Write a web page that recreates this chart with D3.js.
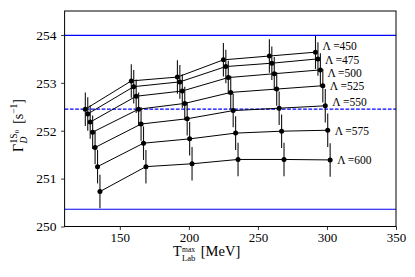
<!DOCTYPE html>
<html>
<head>
<meta charset="utf-8">
<script src="https://cdn.jsdelivr.net/npm/d3@7"></script>
<style>
  body { margin: 0; background: #fff; }
  svg text { font-family: "Liberation Serif", "DejaVu Serif", serif; fill: #000; }
</style>
</head>
<body>
<div id="chart"><svg></svg></div>
<script>
// T_lab^max values (MeV) and per-cutoff horizontal shift used in the plot
var tLab = [125, 158.3, 191.7, 225, 258.3, 291.7];
var lambdas = [450, 475, 500, 525, 550, 575, 600];
var xShift = [0, 1.77, 3.54, 5.31, 7.08, 8.85, 10.6];

// decay rate per cutoff (s^-1)
var g450 = [252.45, 253.04, 253.12, 253.48, 253.56, 253.64];
var g475 = [252.35, 252.92, 253.02, 253.34, 253.41, 253.50];
var g500 = [252.18, 252.72, 252.83, 253.11, 253.19, 253.27];
var g525 = [251.97, 252.45, 252.57, 252.80, 252.87, 252.94];
var g550 = [251.65, 252.14, 252.25, 252.42, 252.47, 252.52];
var g575 = [251.25, 251.74, 251.83, 251.95, 251.99, 252.01];
var g600 = [250.73, 251.25, 251.31, 251.40, 251.40, 251.39];
var gErr = [0.35, 0.35, 0.35, 0.35, 0.35, 0.35, 0.35];

// label heights next to each curve
var labelY = [253.76, 253.47, 253.205, 252.93, 252.59, 252.00, 251.38];

// reference band
var bandHigh = 253.99, bandLow = 250.36, bandMid = 252.45;

var xTicks = [150, 200, 250, 300, 350];
var yTicks = [250, 251, 252, 253, 254];

var allSeries = [g450, g475, g500, g525, g550, g575, g600];

var W = 415, H = 277;
var margin = { top: 11, right: 19, bottom: 50.5, left: 64.6 };
var width = W - margin.left - margin.right,
    height = H - margin.top - margin.bottom;

var svg = d3.select("#chart svg").attr("width", W).attr("height", H);

var x = d3.scaleLinear().domain([110, 350]).range([0, width]);
var y = d3.scaleLinear().domain([250, 254.5]).range([height, 0]);

var g = svg.append("g")
    .attr("transform", "translate(" + margin.left + "," + margin.top + ")");

// blue reference lines
[bandHigh, bandLow].forEach(function(v) {
    g.append("line")
        .attr("x1", 0).attr("x2", width)
        .attr("y1", y(v)).attr("y2", y(v))
        .attr("stroke", "#0000ff").attr("stroke-width", 1.1);
});
g.append("line")
    .attr("x1", 0).attr("x2", width)
    .attr("y1", y(bandMid)).attr("y2", y(bandMid))
    .attr("stroke", "#0000ff").attr("stroke-width", 1.1)
    .attr("stroke-dasharray", "3.7,1.6");

var data = lambdas.map(function(l, i) {
    return {
        id: l,
        values: allSeries[i].map(function(v, j) {
            return { t: tLab[j] + xShift[i], g: v, e: gErr[i] };
        })
    };
});

var line = d3.line()
    .x(function(d) { return x(d.t); })
    .y(function(d) { return y(d.g); });

var series = g.selectAll(".series")
    .data(data)
    .enter().append("g")
    .attr("class", "series");

series.append("path")
    .attr("d", function(d) { return line(d.values); })
    .attr("fill", "none")
    .attr("stroke", "#000")
    .attr("stroke-width", 1);

series.selectAll(".err")
    .data(function(d) { return d.values; })
    .enter().append("line")
    .attr("class", "err")
    .attr("x1", function(d) { return x(d.t); })
    .attr("x2", function(d) { return x(d.t); })
    .attr("y1", function(d) { return y(d.g - d.e); })
    .attr("y2", function(d) { return y(d.g + d.e); })
    .attr("stroke", "#111")
    .attr("stroke-width", 1.1);

series.selectAll("circle")
    .data(function(d) { return d.values; })
    .enter().append("circle")
    .attr("cx", function(d) { return x(d.t); })
    .attr("cy", function(d) { return y(d.g); })
    .attr("r", 2.5)
    .attr("fill", "#000");

series.append("text")
    .attr("x", function(d) { return x(d.values[d.values.length - 1].t) + 7; })
    .attr("y", function(d, i) { return y(labelY[i]); })
    .attr("dy", "0.33em")
    .style("font-size", "11.5px")
    .text(function(d) { return "Λ\u2009=" + d.id; });

// frame
g.append("rect")
    .attr("width", width).attr("height", height)
    .attr("fill", "none").attr("stroke", "#000").attr("stroke-width", 1);

// axes
var xAxis = g.append("g")
    .attr("transform", "translate(0," + height + ")")
    .call(d3.axisBottom(x).tickValues(xTicks).tickSize(3.5).tickPadding(2.5)
        .tickFormat(d3.format("d")));
var yAxis = g.append("g")
    .call(d3.axisLeft(y).tickValues(yTicks).tickSize(3.5).tickPadding(4.5)
        .tickFormat(d3.format("d")));

[xAxis, yAxis].forEach(function(a) {
    a.attr("font-family", null);
    a.select(".domain").remove();
    a.selectAll("line").attr("stroke", "#000").attr("stroke-width", 0.8);
    a.selectAll("text").style("font-size", "13.5px");
});
xAxis.selectAll("text").style("font-size", "13px");

// measure a string's width at a given font size
function textWidth(str, size, italic) {
    var t = svg.append("text").style("font-size", size + "px")
        .style("font-style", italic ? "italic" : null).text(str);
    var w = t.node().getComputedTextLength();
    t.remove();
    return w;
}

// x label: T^max_Lab [MeV]
var tw = textWidth("T", 14);
var sw = Math.max(textWidth("max", 7.5), textWidth("Lab", 8.5));
var xl = svg.append("text").attr("transform", "translate(173,256)");
xl.append("tspan").attr("x", 0).attr("y", 0).style("font-size", "14px").text("T");
xl.append("tspan").attr("x", tw + 0.5).attr("y", -4.5).style("font-size", "7.5px").text("max");
xl.append("tspan").attr("x", tw + 0.5).attr("y", 4.6).style("font-size", "8.5px").text("Lab");
xl.append("tspan").attr("x", tw + sw + 6).attr("y", 0).style("font-size", "14.5px").text("[MeV]");

// y label: Γ^{1S0}_D [s^-1]
var gw = textWidth("Γ", 14);
var s1w = textWidth("1S", 9.5);
var x0 = -40;
var yl = svg.append("text").attr("transform", "translate(23,112) rotate(-90)");
yl.append("tspan").attr("x", x0).attr("y", 0).style("font-size", "14px").text("Γ");
yl.append("tspan").attr("x", x0 + gw + 0.5).attr("y", -6.5).style("font-size", "9.5px").text("1S");
yl.append("tspan").attr("x", x0 + gw + 0.5 + s1w).attr("y", -4.5).style("font-size", "7px").text("0");
yl.append("tspan").attr("x", x0 + gw + 0.5).attr("y", 4).style("font-size", "9.5px")
    .style("font-style", "italic").text("D");
yl.append("tspan").attr("x", x0 + gw + s1w + 10).attr("y", 0).style("font-size", "14px").text("[s");
yl.append("tspan").attr("y", -6).style("font-size", "9.5px").text("−1");
yl.append("tspan").attr("y", 0).style("font-size", "14px").text("]");
</script>
</body>
</html>
